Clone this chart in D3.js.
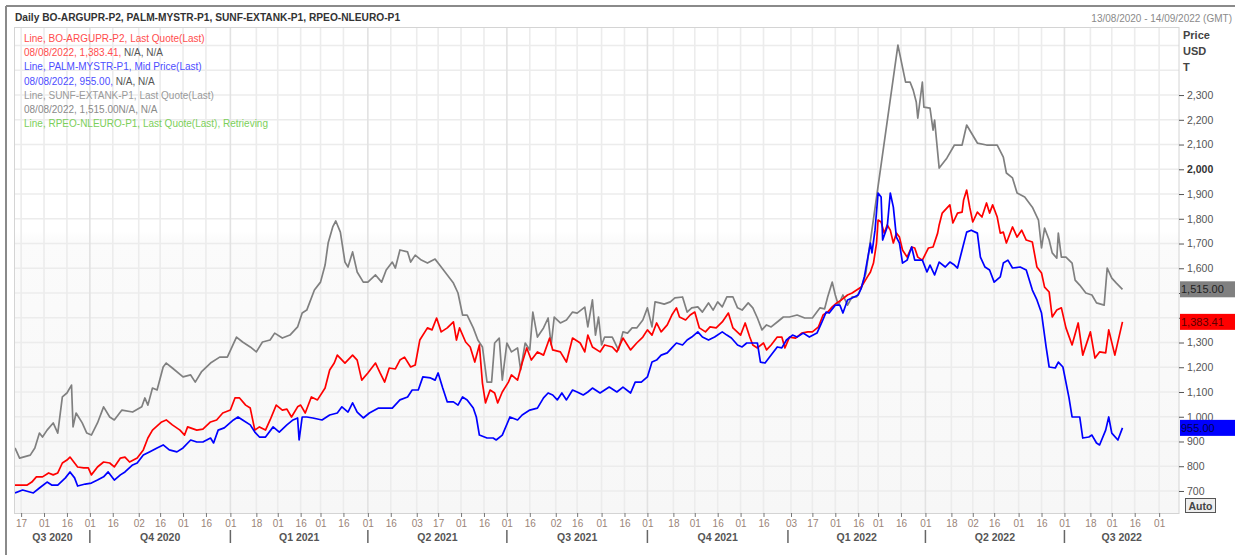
<!DOCTYPE html>
<html>
<head>
<meta charset="utf-8">
<script src="https://cdn.jsdelivr.net/npm/d3@7"></script>
<style>
  body { margin: 0; background: #fff; }
  text { font-family: "Liberation Sans", Arial, sans-serif; }
</style>
</head>
<body>
<div id="chart"></div>
<script>
let width = 1235;
let height = 555;

////////////////////////////////
//   Data (days since 13/08/2020)
////////////////////////////////
let startDate = "2020-08-13";
let endDate = "2022-09-14";

let sunfDays = [0,3,10,13,16,18,21,25,28,31,34,37,38,40,44,47,50,54,58,62,65,70,77,83,85,87,90,93,97,99,103,110,115,118,122,128,134,139,145,149,154,158,162,167,170,175,180,185,188,191,196,200,203,205,208,210,213,216,218,221,224,228,231,236,240,243,247,249,252,257,259,262,266,270,275,278,283,287,290,293,296,300,303,306,309,312,314,317,319,322,325,329,331,334,337,339,342,346,349,351,353,357,361,365,368,373,375,378,380,382,384,386,391,395,398,401,404,407,411,414,417,419,422,425,429,432,437,440,443,447,450,454,457,460,463,466,470,473,476,480,483,486,489,492,495,499,503,507,512,517,522,527,530,532,535,537,539,542,545,548,551,554,557,578,583,586,588,590,591,594,595,599,601,602,605,610,615,620,623,630,636,643,647,649,653,656,661,666,670,672,674,677,679,682,683,685,688,692,694,697,701,705,708,713,715,718,721,725];
let sunfVals = [874,833,845,874,934,918,946,975,934,1080,1096,1128,959,1015,975,934,926,975,1040,999,987,1027,1019,1040,1076,1047,1116,1108,1201,1217,1197,1161,1169,1140,1181,1217,1241,1241,1322,1302,1282,1262,1302,1310,1338,1318,1330,1363,1419,1431,1512,1544,1613,1702,1767,1791,1746,1625,1605,1666,1585,1544,1544,1573,1544,1593,1625,1601,1674,1666,1625,1653,1633,1621,1637,1613,1573,1540,1500,1411,1411,1359,1310,1282,1140,1140,1298,1318,1148,1298,1262,1278,1189,1298,1270,1423,1322,1359,1399,1290,1403,1379,1391,1423,1419,1443,1363,1472,1330,1403,1290,1322,1322,1270,1343,1338,1359,1359,1391,1440,1363,1464,1460,1455,1464,1480,1484,1423,1440,1444,1423,1460,1431,1464,1444,1484,1484,1440,1431,1460,1440,1399,1351,1371,1363,1383,1403,1403,1411,1399,1399,1440,1436,1484,1544,1492,1451,1492,1451,1484,1484,1520,1580,2502,2352,2352,2320,2272,2207,2352,2251,2247,2158,2199,2005,2045,2098,2098,2179,2106,2098,2098,2049,1985,1965,1904,1888,1847,1795,1682,1762,1714,1662,1641,1742,1645,1645,1621,1552,1532,1500,1492,1460,1451,1601,1560,1540,1515];

let boDays = [0,8,11,14,18,22,25,28,31,34,36,41,45,48,50,54,58,62,65,69,72,75,80,84,87,90,96,99,103,108,111,113,119,123,128,132,136,141,144,147,151,154,157,160,164,167,171,175,178,181,185,187,190,194,198,203,206,209,211,216,221,224,227,231,236,239,242,245,249,252,255,259,262,265,270,273,276,279,283,287,289,291,295,298,301,304,306,308,311,314,316,319,323,325,329,332,335,338,342,346,350,352,357,361,365,370,373,375,378,383,386,391,394,398,403,407,411,414,417,420,423,427,430,433,435,439,442,445,448,452,455,459,463,467,470,475,478,481,483,486,490,492,495,499,502,504,507,511,515,519,522,526,529,532,535,538,541,545,548,551,554,558,560,562,564,565,567,569,571,573,575,577,579,581,584,587,589,591,594,598,601,604,605,607,610,612,614,617,620,621,623,625,627,630,633,636,638,640,643,645,647,649,653,656,659,662,666,669,672,674,677,679,682,685,688,692,696,699,704,707,710,714,716,720,725];
let boVals = [724,724,736,757,757,773,765,773,813,825,837,797,793,793,765,797,817,813,797,833,837,817,833,866,914,946,979,987,967,946,926,959,946,950,979,987,1015,1027,1076,1076,1047,1035,946,959,946,987,1047,1027,1031,999,1040,1047,1015,1080,1068,1116,1189,1217,1249,1217,1249,1229,1148,1177,1217,1177,1140,1197,1193,1229,1241,1201,1209,1310,1359,1351,1399,1343,1359,1383,1310,1359,1302,1282,1221,1290,1136,1056,1108,1096,1056,1100,1140,1169,1148,1217,1278,1229,1262,1249,1318,1270,1262,1221,1318,1298,1262,1330,1282,1262,1290,1282,1262,1318,1270,1298,1322,1351,1330,1379,1343,1371,1411,1440,1403,1391,1411,1423,1359,1343,1363,1359,1383,1419,1359,1330,1379,1322,1290,1278,1298,1270,1290,1322,1322,1278,1322,1318,1338,1343,1343,1363,1411,1423,1444,1460,1472,1492,1500,1512,1524,1565,1585,1621,1702,1795,1787,1742,1775,1754,1702,1742,1726,1674,1645,1686,1682,1645,1633,1682,1686,1742,1775,1823,1843,1856,1783,1823,1827,1876,1916,1847,1787,1827,1807,1864,1823,1856,1807,1742,1746,1702,1767,1726,1754,1714,1706,1605,1581,1524,1504,1403,1431,1440,1359,1290,1379,1249,1343,1237,1262,1258,1351,1249,1383.41];

let palmDays = [0,5,12,16,21,24,28,33,36,39,41,46,50,54,58,61,65,69,72,77,80,84,88,93,97,101,106,110,115,119,123,128,130,133,137,143,146,149,154,157,160,164,169,173,178,182,185,186,188,191,195,201,206,211,214,218,221,224,228,232,238,242,247,252,257,260,264,267,272,275,277,280,283,287,290,293,296,300,302,304,309,313,315,319,324,329,332,337,342,346,349,352,355,358,361,365,368,372,375,378,383,389,394,398,403,406,410,414,417,420,423,427,430,433,437,440,443,447,450,454,458,463,466,469,473,476,479,482,486,488,491,494,499,502,505,509,512,516,520,525,528,531,533,537,540,542,545,548,552,554,556,560,561,563,565,567,568,571,573,575,577,579,581,584,587,589,594,597,599,602,605,609,612,615,617,620,623,626,630,632,635,638,641,645,647,650,653,658,662,666,669,672,675,677,681,683,686,690,692,697,699,703,705,708,710,714,716,718,722,725];
let palmVals = [692,704,692,712,736,724,724,753,777,753,720,728,732,744,757,777,744,765,777,805,813,845,858,874,886,866,858,874,906,898,898,914,894,946,955,987,999,987,967,938,918,918,959,938,967,987,995,906,999,999,995,987,1007,1015,1040,1019,1056,1019,995,1015,1035,1035,1035,1068,1080,1108,1108,1161,1157,1148,1177,1116,1060,1060,1047,1080,1068,1035,999,926,914,914,906,926,999,987,1007,1027,1035,1076,1096,1088,1068,1096,1068,1108,1100,1088,1100,1116,1096,1120,1100,1120,1096,1140,1140,1161,1221,1229,1249,1258,1278,1298,1290,1310,1322,1343,1322,1310,1322,1343,1330,1318,1290,1282,1298,1298,1298,1221,1217,1241,1282,1278,1310,1330,1322,1338,1322,1338,1379,1423,1419,1451,1451,1419,1472,1480,1492,1520,1565,1702,1662,1754,1904,1888,1714,1767,1904,1847,1726,1702,1621,1633,1686,1633,1633,1585,1613,1573,1625,1605,1625,1613,1601,1674,1746,1754,1742,1645,1605,1593,1544,1565,1621,1633,1601,1605,1593,1512,1472,1419,1282,1201,1197,1221,1201,1076,999,999,914,918,926,894,886,946,999,934,906,955];

let yTicks = [700,800,900,1000,1100,1200,1300,1400,1500,1600,1700,1800,1900,2000,2100,2200,2300];
let yGrid = [700,800,900,1000,1100,1200,1300,1400,1500,1600,1700,1800,1900,2000,2100,2200,2300,2400,2500];

let tickDates = ["2020-08-17","2020-09-01","2020-09-16","2020-10-01","2020-10-16","2020-11-02","2020-11-16","2020-12-01","2020-12-16","2021-01-01","2021-01-18","2021-02-01","2021-02-16","2021-03-01","2021-03-16","2021-04-01","2021-04-16","2021-05-03","2021-05-17","2021-06-01","2021-06-16","2021-07-01","2021-07-16","2021-08-02","2021-08-16","2021-09-01","2021-09-16","2021-10-01","2021-10-18","2021-11-01","2021-11-16","2021-12-01","2021-12-16","2022-01-03","2022-01-17","2022-02-01","2022-02-16","2022-03-01","2022-03-16","2022-04-01","2022-04-18","2022-05-02","2022-05-16","2022-06-01","2022-06-16","2022-07-01","2022-07-18","2022-08-01","2022-08-16","2022-09-01"];

let quarterLabels = ["Q3 2020","Q4 2020","Q1 2021","Q2 2021","Q3 2021","Q4 2021","Q1 2022","Q2 2022","Q3 2022"];
let quarterStarts = ["2020-07-01","2020-10-01","2021-01-01","2021-04-01","2021-07-01","2021-10-01","2022-01-01","2022-04-01","2022-07-01","2022-10-01"];

let legendLines = [
  [["Line, BO-ARGUPR-P2, Last Quote(Last)", "#ff4d4d"]],
  [["08/08/2022, 1,383.41,", "#ff4d4d"], [" N/A, N/A", "#555"]],
  [["Line, PALM-MYSTR-P1, Mid Price(Last)", "#4d4dff"]],
  [["08/08/2022, 955.00,", "#4d4dff"], [" N/A, N/A", "#555"]],
  [["Line, SUNF-EXTANK-P1, Last Quote(Last)", "#9a9a9a"]],
  [["08/08/2022, 1,515.00N/A, N/A", "#8a8a8a"]],
  [["Line, RPEO-NLEURO-P1, Last Quote(Last),  Retrieving", "#7ccf5a"]]
];

////////////////////////////////
//   Setup
////////////////////////////////
let parse = d3.utcParse("%Y-%m-%d");
let t0 = parse(startDate);
function toSeries(days, vals) {
  return days.map((d, i) => ({date: d3.utcDay.offset(t0, d), value: vals[i]}));
}
let series = [
  {name: "SUNF", data: toSeries(sunfDays, sunfVals), color: "#808080", text: "#222", label: "1,515.00"},
  {name: "BO", data: toSeries(boDays, boVals), color: "#ff0000", text: "#5a0000", label: "1,383.41"},
  {name: "PALM", data: toSeries(palmDays, palmVals), color: "#0000ff", text: "#000050", label: "955.00"}
];

let plotL = 15, plotR = 1179, plotT = 27, plotB = 513;
let x = d3.scaleUtc().domain([t0, parse(endDate)]).range([plotL, plotR]);
let y = d3.scaleLinear().domain([611, 2575]).range([plotB, plotT]);

let svg = d3.select("#chart").append("svg")
  .attr("width", width)
  .attr("height", height);

let defs = svg.append("defs");
let grad = defs.append("linearGradient").attr("id", "bg").attr("x1", 0).attr("y1", 0).attr("x2", 0).attr("y2", 1);
grad.append("stop").attr("offset", "0").attr("stop-color", "#ffffff");
grad.append("stop").attr("offset", "0.42").attr("stop-color", "#ffffff");
grad.append("stop").attr("offset", "0.44").attr("stop-color", "#fbfbfb");
grad.append("stop").attr("offset", "1").attr("stop-color", "#f7f7f7");
defs.append("clipPath").attr("id", "clip").append("rect")
  .attr("x", plotL).attr("y", plotT).attr("width", plotR - plotL).attr("height", plotB - plotT);

// outer frame
svg.append("line").attr("x1", 6).attr("x2", width).attr("y1", 6).attr("y2", 6).attr("stroke", "#8a8a8a").attr("stroke-width", 2);
svg.append("line").attr("x1", 6).attr("x2", 6).attr("y1", 6).attr("y2", height).attr("stroke", "#8a8a8a").attr("stroke-width", 2);

// header
svg.append("text").attr("x", 15).attr("y", 21)
  .attr("font-size", "10.2px").attr("font-weight", "bold").attr("fill", "#333")
  .text("Daily BO-ARGUPR-P2, PALM-MYSTR-P1, SUNF-EXTANK-P1, RPEO-NLEURO-P1");
svg.append("text").attr("x", 1232).attr("y", 22).attr("text-anchor", "end")
  .attr("font-size", "10px").attr("fill", "#8a8a8a")
  .text("13/08/2020 - 14/09/2022 (GMT)");

// plot background
svg.append("rect").attr("x", plotL).attr("y", plotT).attr("width", plotR - plotL).attr("height", plotB - plotT)
  .attr("fill", "url(#bg)");

////////////////////////////////
//   Grid
////////////////////////////////
let grid = svg.append("g");
grid.selectAll(".hg").data(yGrid).enter().append("line")
  .attr("x1", plotL).attr("x2", plotR)
  .attr("y1", d => y(d)).attr("y2", d => y(d))
  .attr("stroke", "#ececec").attr("stroke-width", 1.6);
let qSet = new Set(quarterStarts);
grid.selectAll(".vg").data(tickDates).enter().append("line")
  .attr("x1", d => x(parse(d))).attr("x2", d => x(parse(d)))
  .attr("y1", plotT).attr("y2", plotB)
  .attr("stroke", d => qSet.has(d) ? "#e2e2e2" : "#ececec").attr("stroke-width", 1.6);

svg.append("rect").attr("x", plotL - 0.5).attr("y", plotT + 0.5).attr("width", plotR - plotL + 0.5).attr("height", plotB - plotT)
  .attr("fill", "none").attr("stroke", "#d4d4d4");

////////////////////////////////
//   Lines
////////////////////////////////
let line = d3.line().x(d => x(d.date)).y(d => y(d.value));
svg.append("g").attr("clip-path", "url(#clip)")
  .selectAll("path").data(series).enter().append("path")
  .attr("d", d => line(d.data))
  .attr("fill", "none")
  .attr("stroke", d => d.color)
  .attr("stroke-width", 1.7)
  .attr("stroke-linejoin", "round");

////////////////////////////////
//   Legend
////////////////////////////////
let legend = svg.append("g");
legendLines.forEach(function(parts, i) {
  let t = legend.append("text").attr("x", 24).attr("y", 42 + i * 14.2).attr("font-size", "10px");
  parts.forEach(p => t.append("tspan").attr("fill", p[1]).text(p[0]));
});

////////////////////////////////
//   Axes
////////////////////////////////
// last-value boxes hide the price labels they sit on
let boxYs = series.map(s => y(s.data[s.data.length - 1].value));
function covered(v) { return boxYs.some(b => Math.abs(y(v) - b) < 11); }

let yAxis = svg.append("g").attr("transform", "translate(" + plotR + ",0)")
  .call(d3.axisRight(y).tickValues(yTicks).tickFormat(d3.format(",")).tickSize(5).tickPadding(3));
yAxis.select(".domain").remove();
yAxis.selectAll("line").attr("stroke", "#555");
yAxis.selectAll("text").attr("font-size", "10.5px")
  .attr("font-family", "Liberation Sans, Arial, sans-serif")
  .attr("font-weight", d => d === 2000 ? "bold" : null)
  .attr("fill", d => d === 2000 ? "#333" : "#555");
yAxis.selectAll(".tick").filter(d => covered(d)).select("text").remove();

["Price", "USD", "T"].forEach(function(s, i) {
  svg.append("text").attr("x", 1183).attr("y", 39 + i * 16)
    .attr("font-size", "11px").attr("font-weight", "bold").attr("fill", "#444").text(s);
});

let xAxis = svg.append("g").attr("transform", "translate(0," + plotB + ")")
  .call(d3.axisBottom(x).tickValues(tickDates.map(parse)).tickFormat(d3.utcFormat("%d")).tickSize(4).tickPadding(3));
xAxis.select(".domain").remove();
xAxis.selectAll("line").attr("stroke", "#777");
xAxis.selectAll("text").attr("font-size", "10px").attr("fill", "#9a8478")
  .attr("font-family", "Liberation Sans, Arial, sans-serif");

// quarters
let xd = x.domain();
let qg = svg.append("g");
quarterLabels.forEach(function(q, i) {
  let a = parse(quarterStarts[i]), b = parse(quarterStarts[i + 1]);
  let xa = x(a < xd[0] ? xd[0] : a), xb = x(b > xd[1] ? xd[1] : b);
  qg.append("text").attr("x", (xa + xb) / 2).attr("y", 541).attr("text-anchor", "middle")
    .attr("font-size", "10.5px").attr("font-weight", "bold").attr("fill", "#555").text(q);
  if (a > xd[0]) {
    qg.append("line").attr("x1", x(a)).attr("x2", x(a)).attr("y1", 530).attr("y2", 543)
      .attr("stroke", "#666").attr("stroke-width", 1.5);
  }
});

////////////////////////////////
//   Last value boxes
////////////////////////////////
series.forEach(function(s, i) {
  let cy = boxYs[i];
  svg.append("rect").attr("x", 1180).attr("y", cy - 8).attr("width", 55).attr("height", 16).attr("fill", s.color);
  svg.append("text").attr("x", 1181).attr("y", cy + 4).attr("font-size", "11px").attr("fill", s.text).text(s.label);
});

// Auto button
svg.append("rect").attr("x", 1185.5).attr("y", 498.5).attr("width", 30).attr("height", 14)
  .attr("fill", "#eee").attr("stroke", "#555");
svg.append("text").attr("x", 1200.5).attr("y", 510).attr("text-anchor", "middle")
  .attr("font-size", "10.5px").attr("font-weight", "bold").attr("fill", "#444").text("Auto");
</script>
</body>
</html>
